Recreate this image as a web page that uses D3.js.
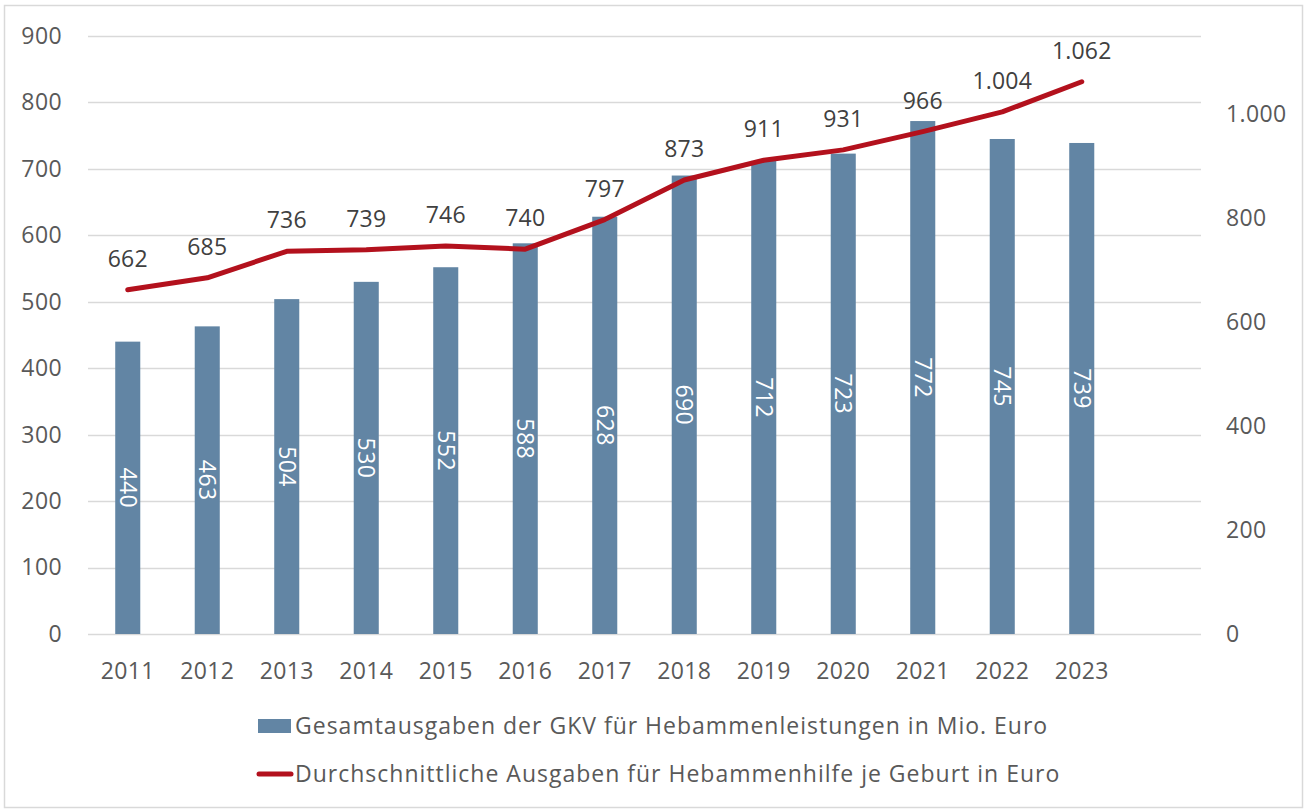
<!DOCTYPE html>
<html><head><meta charset="utf-8">
<script src="https://cdn.jsdelivr.net/npm/d3@7"></script>
<style>
html,body{margin:0;padding:0;background:#fff;}
svg text{font-family:"Open Sans",sans-serif;}
</style></head>
<body>
<svg id="chart" width="1306" height="810"></svg>
<script>
const years = ["2011","2012","2013","2014","2015","2016","2017","2018","2019","2020","2021","2022","2023"];
const totalSpending = [440,463,504,530,552,588,628,690,712,723,772,745,739];
const perBirth = [662,685,736,739,746,740,797,873,911,931,966,1004,1062];
const leftTicks = [0,100,200,300,400,500,600,700,800,900];
const rightTicks = [0,200,400,600,800,1000];
const legendLabels = ["Gesamtausgaben der GKV für Hebammenleistungen in Mio. Euro","Durchschnittliche Ausgaben für Hebammenhilfe je Geburt in Euro"];

const de = d3.formatLocale({decimal:",",thousands:".",grouping:[3],currency:["","€"]});
const fmt = de.format(",d");

const svg = d3.select("#chart");
const W=1306,H=810;
const m={left:88,right:1201,top:36,bottom:634};
const barColor="#6285a4", lineColor="#b3111d", textColor="#595959", gridColor="#d9d9d9";
const FS="23px";

svg.append("rect").attr("x",4.5).attr("y",5.5).attr("width",W-8).attr("height",H-8)
  .attr("fill","#fff").attr("stroke","#d9d9d9").attr("stroke-width",1.5);

const x = d3.scaleBand().domain([...years,""]).range([m.left,m.right]).paddingInner(0.685).paddingOuter(0.3425);
const yL = d3.scaleLinear().domain([0,900]).range([m.bottom,m.top]);
const yR = d3.scaleLinear().domain([0,1150]).range([m.bottom,m.top]);

// gridlines
svg.append("g").selectAll("line").data(leftTicks).join("line")
  .attr("x1",m.left).attr("x2",m.right).attr("y1",d=>Math.round(yL(d))+0.5).attr("y2",d=>Math.round(yL(d))+0.5)
  .attr("stroke",gridColor).attr("stroke-width",1.5);

function styleAxis(g){
  g.select(".domain").remove();
  g.selectAll("text").attr("fill",textColor).style("font-size",FS).style("letter-spacing","0.4px");
}
// left axis
svg.append("g").attr("transform",`translate(${m.left},0)`)
  .call(d3.axisLeft(yL).tickValues(leftTicks).tickSize(0).tickPadding(26).tickFormat(fmt)).call(styleAxis);
// right axis
svg.append("g").attr("transform",`translate(${m.right},0)`)
  .call(d3.axisRight(yR).tickValues(rightTicks).tickSize(0).tickPadding(25).tickFormat(fmt)).call(styleAxis);
// bottom axis
svg.append("g").attr("transform",`translate(0,${m.bottom})`)
  .call(d3.axisBottom(x).tickValues(years).tickSize(0).tickPadding(29)).call(styleAxis);

// bars
svg.append("g").selectAll("rect").data(years).join("rect")
  .attr("x",d=>x(d)).attr("width",x.bandwidth())
  .attr("y",(d,i)=>yL(totalSpending[i])).attr("height",(d,i)=>yL(0)-yL(totalSpending[i]))
  .attr("fill",barColor);

// bar labels (rotated)
svg.append("g").selectAll("text").data(years).join("text")
  .attr("transform",(d,i)=>`translate(${x(d)+x.bandwidth()/2},${(yL(totalSpending[i])+yL(0))/2}) rotate(90)`)
  .attr("text-anchor","middle").attr("dy","0.35em")
  .attr("fill","#fff").style("font-size",FS).style("letter-spacing","0.4px")
  .text((d,i)=>fmt(totalSpending[i]));

// line
const line = d3.line().x((d,i)=>x(years[i])+x.bandwidth()/2).y(d=>yR(d));
svg.append("path").datum(perBirth).attr("d",line).attr("fill","none")
  .attr("stroke",lineColor).attr("stroke-width",5).attr("stroke-linejoin","round").attr("stroke-linecap","round");

// line labels
svg.append("g").selectAll("text").data(perBirth).join("text")
  .attr("x",(d,i)=>x(years[i])+x.bandwidth()/2).attr("y",d=>yR(d)-31)
  .attr("text-anchor","middle").attr("dy","0.35em")
  .attr("fill","#404040").style("font-size",FS).style("letter-spacing","0.2px")
  .text(d=>fmt(d));

// legend
const lg = svg.append("g");
lg.append("rect").attr("x",258).attr("y",719).attr("width",33).attr("height",14).attr("fill",barColor);
lg.append("text").attr("x",295).attr("y",726).attr("dy","0.35em").attr("fill",textColor).style("font-size",FS).style("letter-spacing","1px").text(legendLabels[0]);
lg.append("line").attr("x1",259).attr("x2",291).attr("y1",774).attr("y2",774).attr("stroke",lineColor).attr("stroke-width",5).attr("stroke-linecap","round");
lg.append("text").attr("x",295).attr("y",774).attr("dy","0.35em").attr("fill",textColor).style("font-size",FS).style("letter-spacing","1px").text(legendLabels[1]);
</script>
</body></html>
